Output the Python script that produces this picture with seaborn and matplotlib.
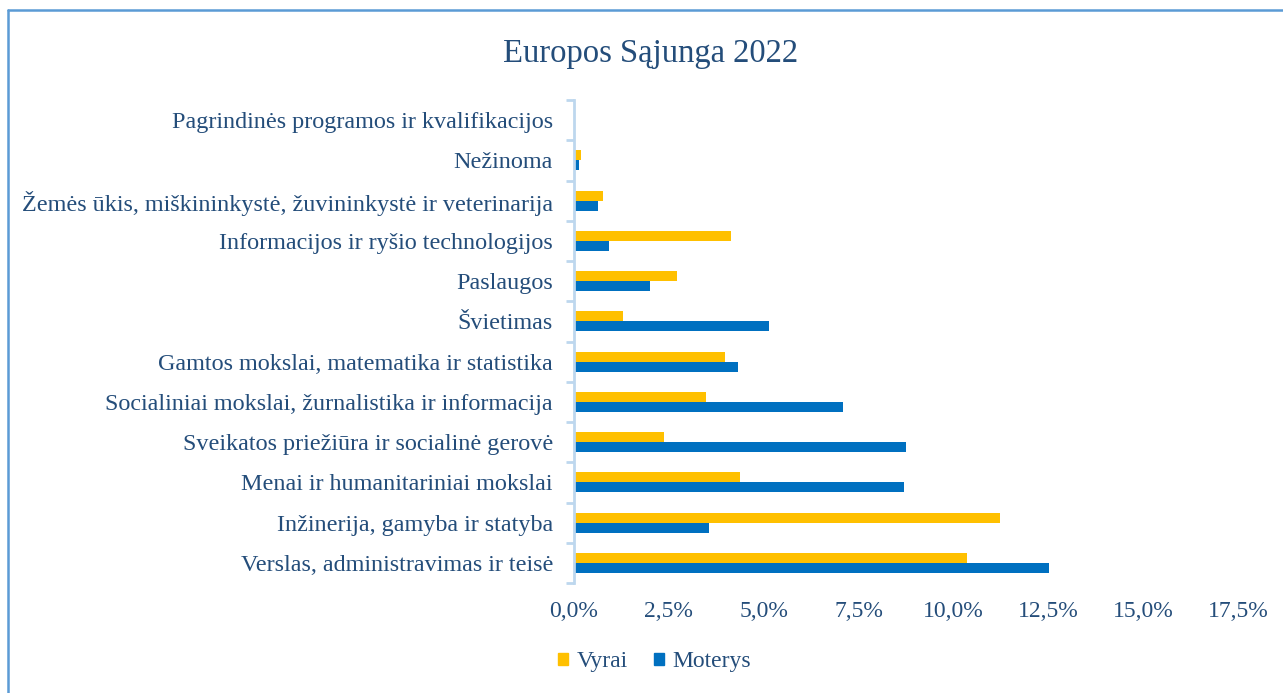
import matplotlib
matplotlib.use("Agg")
import matplotlib.pyplot as plt
import seaborn as sns
import pandas as pd
from matplotlib.lines import Line2D
from matplotlib.ticker import FuncFormatter, FixedLocator

categories = [
    "Pagrindinės programos ir kvalifikacijos",
    "Nežinoma",
    "Žemės ūkis, miškininkystė, žuvininkystė ir veterinarija",
    "Informacijos ir ryšio technologijos",
    "Paslaugos",
    "Švietimas",
    "Gamtos mokslai, matematika ir statistika",
    "Socialiniai mokslai, žurnalistika ir informacija",
    "Sveikatos priežiūra ir socialinė gerovė",
    "Menai ir humanitariniai mokslai",
    "Inžinerija, gamyba ir statyba",
    "Verslas, administravimas ir teisė",
]
vyrai = [0.0, 0.20, 0.76, 4.13, 2.72, 1.30, 3.98, 3.49, 2.39, 4.37, 11.23, 10.37]
moterys = [0.0, 0.14, 0.65, 0.92, 2.02, 5.15, 4.32, 7.10, 8.75, 8.69, 3.57, 12.52]
series = ["Vyrai", "Moterys"]
colors = ["#FFC000", "#0070C0"]
x_ticks = [0, 2.5, 5, 7.5, 10, 12.5, 15, 17.5]

df = pd.DataFrame({
    "Kategorija": categories * 2,
    "Lytis": [series[0]] * len(categories) + [series[1]] * len(categories),
    "Reikšmė": vyrai + moterys,
})

sns.set_theme(style="white")
plt.rcParams["font.family"] = ["Liberation Serif", "DejaVu Serif"]
text_color = "#244D7A"
axis_color = "#BDD7EE"

fig = plt.figure(figsize=(12.83, 6.93), dpi=100)
ax = fig.add_axes([0.4472, 0.1587, 0.5178, 0.697])

sns.barplot(data=df, y="Kategorija", x="Reikšmė", hue="Lytis", order=categories,
            hue_order=series, palette=colors, orient="h", width=0.5, gap=0,
            dodge=True, ax=ax, legend=False, saturation=1,
            edgecolor="none", linewidth=0)

ax.set_xlim(0, 17.5)
ax.set_ylim(len(categories) - 0.5, -0.5)
ax.set_xlabel("")
ax.set_ylabel("")
ax.set_xticks(x_ticks)
ax.xaxis.set_major_formatter(FuncFormatter(lambda v, p: f"{v:.1f}%".replace(".", ",")))
ax.tick_params(axis="x", length=0, pad=13, labelsize=17, labelcolor=text_color)
ax.tick_params(axis="y", which="major", length=0, pad=15, labelsize=17.4, labelcolor=text_color)
ax.yaxis.set_minor_locator(FixedLocator([i - 0.5 for i in range(len(categories) + 1)]))
ax.tick_params(axis="y", which="minor", length=6, width=2, color=axis_color, left=True)

for s in ["top", "right", "bottom"]:
    ax.spines[s].set_visible(False)
ax.spines["left"].set_color(axis_color)
ax.spines["left"].set_linewidth(2)
ax.grid(False)

fig.text(0.507, 0.923, "Europos Sąjunga 2022", ha="center", va="center",
         fontsize=23.5, color=text_color)

handles = [plt.Rectangle((0, 0), 1, 1, color=c) for c in colors]
fig.legend(handles, series, loc="center", bbox_to_anchor=(0.51, 0.045), ncol=2,
           frameon=False, fontsize=17, labelcolor=text_color, handlelength=0.45,
           handleheight=0.45, handletextpad=0.35, columnspacing=1.1)

border_color = "#5B9BD5"
fig.lines.append(Line2D([8 / 1283, 8 / 1283], [0, 1 - 10 / 693], transform=fig.transFigure,
                        color=border_color, linewidth=1.8))
fig.lines.append(Line2D([8 / 1283, 1], [1 - 10 / 693, 1 - 10 / 693], transform=fig.transFigure,
                        color=border_color, linewidth=1.8))

fig.savefig("out.png", dpi=100)
